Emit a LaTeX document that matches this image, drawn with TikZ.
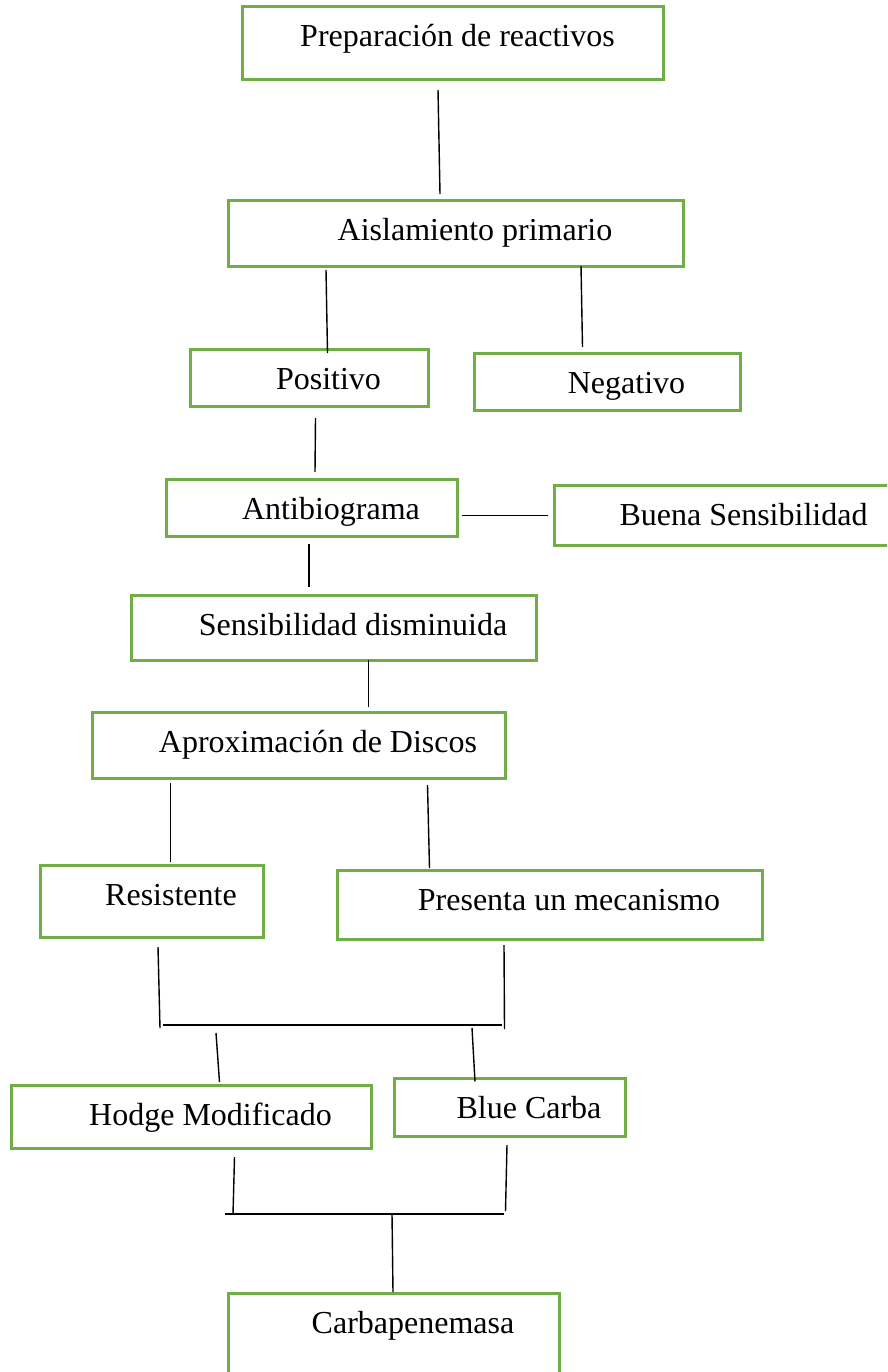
\documentclass[tikz,border=0pt]{standalone}
\usepackage{fontspec}
\setmainfont{Liberation Serif}
\definecolor{boxgreen}{RGB}{112,173,71}
\tikzset{stage/.style={rectangle, draw=boxgreen, line width=3pt, anchor=north west, inner ysep=0pt, text height=40pt, font=\fontsize{32}{38}\selectfont, execute at begin node={\hspace*{#1}}}, stage/.default=38pt}
\tikzstyle{link} = [line width=1.4pt, black]

\begin{document}
\begin{tikzpicture}[x=1pt, y=-1pt]
\useasboundingbox (0,0) rectangle (887,1372);
\clip (0,0) rectangle (887,1372);

\node (prep) [stage=9pt, minimum width=421pt, text depth=33pt] at (241,5) {Preparación de reactivos};
\node (aisl) [stage, minimum width=455pt, text depth=26pt] at (227,199) {Aislamiento primario};
\node (pos) [stage, minimum width=238pt, text depth=17pt] at (189,348) {Positivo};
\node (neg) [stage, minimum width=266pt, text depth=17pt] at (473,352) {Negativo};
\node (anti) [stage, minimum width=291pt, text depth=17pt] at (165,478) {Antibiograma};
\node (buena) [stage, minimum width=340pt, text depth=20pt] at (553,484) {Buena Sensibilidad};
\node (sens) [stage, minimum width=405pt, text depth=25pt] at (130,594) {Sensibilidad disminuida};
\node (aprox) [stage, minimum width=413pt, text depth=26pt] at (91,711) {Aproximación de Discos};
\node (resis) [stage, minimum width=223pt, text depth=32pt] at (39,864) {Resistente};
\node (pres) [stage, minimum width=425pt, text depth=29pt] at (336,869) {Presenta un mecanismo};
\node (hodge) [stage, minimum width=360pt, text depth=23pt] at (10,1084) {Hodge Modificado};
\node (blue) [stage, minimum width=231pt, text depth=18pt] at (393,1077) {Blue Carba};
\node (carba) [stage, minimum width=331pt, text depth=60pt] at (227,1292) {Carbapenemasa};

% free ends of the joining bars
\coordinate (resis-end) at (160,1028);
\coordinate (pres-end) at (504.5,1029);
\coordinate (barA-w) at (163,1025);
\coordinate (barA-e) at (502,1025);
\coordinate (hodge-in) at (216,1033);
\coordinate (blue-in) at (472,1028);
\coordinate (hodge-end) at (233,1214);
\coordinate (blue-end) at (505.5,1211);
\coordinate (barB-w) at (225,1214);
\coordinate (barB-e) at (504,1214);
\coordinate (carba-in) at (392,1214);

\draw [link] ([xshift=-15pt,yshift=-9pt]prep.south) -- ([xshift=-16pt,yshift=5pt]aisl.north);
\draw [link] ([xshift=-130pt,yshift=-2pt]aisl.south) -- ([xshift=18pt,yshift=-5pt]pos.north);
\draw [link] ([xshift=125pt,yshift=2pt]aisl.south) -- ([xshift=-25pt,yshift=5pt]neg.north);
\draw [link] ([xshift=6pt,yshift=-10pt]pos.south) -- ([xshift=3pt,yshift=6pt]anti.north);
\draw [link] ([xshift=3pt,yshift=-7.5pt]anti.east) -- ([xshift=-5pt]buena.west);
\draw [link] ([xshift=-3pt,yshift=-6pt]anti.south) -- ([xshift=-25pt,yshift=7pt]sens.north);
\draw [link] ([xshift=34.5pt,yshift=2pt]sens.south) -- ([xshift=69.5pt,yshift=4pt]aprox.north);
\draw [link] ([xshift=-128.5pt,yshift=-3pt]aprox.south) -- ([xshift=18.5pt,yshift=2pt]resis.north);
\draw [link] ([xshift=128.5pt,yshift=-5pt]aprox.south) -- ([xshift=-120.5pt,yshift=1pt]pres.north);
\draw [link] ([xshift=6pt,yshift=-8pt]resis.south) -- (resis-end);
\draw [link] ([xshift=-46pt,yshift=-4pt]pres.south) -- (pres-end);
\draw [link] (barA-w) -- (barA-e);
\draw [link] (hodge-in) -- ([xshift=28pt,yshift=2pt]hodge.north);
\draw [link] (blue-in) -- ([xshift=-35pt,yshift=-4.5pt]blue.north);
\draw [link] ([xshift=43pt,yshift=-7pt]hodge.south) -- (hodge-end);
\draw [link] ([xshift=-3pt,yshift=-7pt]blue.south) -- (blue-end);
\draw [link] (barB-w) -- (barB-e);
\draw [link] (carba-in) -- ([xshift=-1pt]carba.north);
\end{tikzpicture}
\end{document}
